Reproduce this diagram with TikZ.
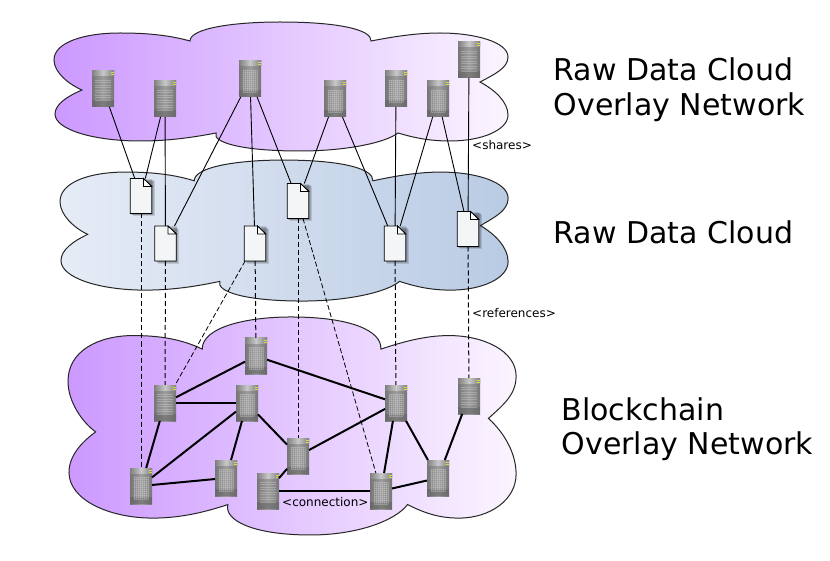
\documentclass[tikz,border=0pt]{standalone}
\usepackage{fontspec}
\setmainfont{DejaVu Sans}
\definecolor{srvedge}{HTML}{767676}
\definecolor{srvmid}{HTML}{9E9E9E}
\definecolor{srvtop}{HTML}{C8C8C8}
\definecolor{srvlow}{HTML}{5E5E5E}
\definecolor{srvline}{HTML}{C8C8C8}
\definecolor{led}{HTML}{D8DC3C}
\definecolor{pleft}{HTML}{CC99FF}
\definecolor{pright}{HTML}{FBF5FF}
\definecolor{bleft}{HTML}{E6ECF6}
\definecolor{bright}{HTML}{B9CBE4}
\definecolor{docfill}{HTML}{F3F5F7}
\tikzset{
  cloudshape/.style={draw=black!85,line width=1pt,shading=axis,shading angle=75},
  purplecloud/.style={cloudshape,left color=pleft,right color=pright},
  bluecloud/.style={cloudshape,left color=bleft,right color=bright},
  srvbox/.style={rectangle,minimum width=22pt,minimum height=36pt,inner sep=0pt,outer sep=0pt},
  docbox/.style={rectangle,minimum width=21.5pt,minimum height=35pt,inner sep=0pt,outer sep=0pt},
  docshape/.style={draw=black,line width=0.9pt,fill=docfill,line join=miter},
  docshadow/.style={fill=black,opacity=0.13},
  share/.style={draw=black,line width=0.9pt},
  refer/.style={draw=black,line width=1pt,dash pattern=on 5pt off 3pt},
  referthin/.style={draw=black,line width=0.8pt,dash pattern=on 5pt off 2.5pt},
  link/.style={draw=black,line width=2pt},
  title/.style={anchor=west,align=left,font=\fontsize{30}{34.5}\selectfont,inner sep=0pt},
  small/.style={anchor=west,font=\fontsize{12}{14}\selectfont,inner sep=0pt}
}
\newcommand{\cloudoutline}{
  (190,41) .. controls (165,34) and (140,33) .. (120,33)
  .. controls (85,33) and (54,42) .. (54,60)
  .. controls (54,72) and (68,84) .. (82,90)
  .. controls (68,96) and (55,104) .. (55,114)
  .. controls (55,130) and (95,141) .. (140,141)
  .. controls (170,141) and (195,137) .. (216,133)
  .. controls (212,142) and (240,151) .. (300,151)
  .. controls (345,151) and (385,143) .. (398,133)
  .. controls (415,138) and (430,141) .. (450,141)
  .. controls (482,141) and (508,130) .. (508,115)
  .. controls (508,102) and (495,90) .. (480,82)
  .. controls (495,74) and (508,68) .. (508,57)
  .. controls (508,42) and (475,33) .. (440,33)
  .. controls (415,33) and (392,37) .. (371,41)
  .. controls (372,30) and (340,22) .. (280,22)
  .. controls (235,22) and (190,28) .. (190,41) -- cycle}
\newcommand{\srvbase}[2]{
  \node[srvbox] (#1) at (#2) {};
  \begin{scope}[shift={(#1.center)}]
    \fill[left color=srvedge,right color=srvedge,middle color=srvmid] (-11,-18) rectangle (11,18);
    \fill[left color=black!50,right color=black!50,middle color=srvtop] (-11,-18) rectangle (11,-13);
    \fill[srvlow,opacity=0.5] (-11,11) rectangle (11,18);
    \fill[led] (8,-16.5) rectangle (11,-15.5);
    \fill[led] (8,-14.5) rectangle (11,-13.5);
  \end{scope}}
\newcommand{\srvgrid}[2]{
  \srvbase{#1}{#2}
  \begin{scope}[shift={(#1.center)},opacity=0.4]
    \foreach \yy in {-9,-7,...,13} \draw[srvline,line width=0.45pt] (-7,\yy) -- (7,\yy);
    \foreach \xx in {-7,-5,...,7} \draw[srvline,line width=0.45pt] (\xx,-9) -- (\xx,13);
  \end{scope}}
\newcommand{\srvstripe}[2]{
  \srvbase{#1}{#2}
  \begin{scope}[shift={(#1.center)},opacity=0.45]
    \foreach \yy in {-9,-6.5,...,13} \draw[srvline,line width=0.7pt] (-8,\yy) -- (8,\yy);
  \end{scope}}
\newcommand{\docnode}[2]{
  \node[docbox] (#1) at (#2) {};
  \begin{scope}[shift={(#1.center)}]
    \foreach \ss in {0.5,1.2,2,3} \fill[docshadow] (-10.75+\ss,-17.5+\ss) rectangle (10.75+\ss,17.5+\ss);
    \draw[docshape] (-10.75,-17.5) -- (2.5,-17.5) -- (10.75,-9.5) -- (10.75,17.5) -- (-10.75,17.5) -- cycle;
    \draw[black,line width=0.8pt,fill=white] (2.5,-17.5) -- (2.5,-9.5) -- (10.75,-9.5) -- cycle;
  \end{scope}}
\begin{document}
\begin{tikzpicture}[x=1pt,y=-1pt]
\useasboundingbox (0,0) rectangle (830,561);
\fill[white] (0,0) rectangle (830,561);
\path[purplecloud] \cloudoutline;
\begin{scope}[shift={(6.7,136)},xscale=0.987,yscale=1.093]
  \path[bluecloud] \cloudoutline;
\end{scope}
\begin{scope}[shift={(14.7,279.8)},xscale=0.987,yscale=1.69]
  \path[purplecloud] \cloudoutline;
\end{scope}
\srvstripe{sa}{103,89}
\srvstripe{sb}{165,99}
\srvgrid{sc}{250,79}
\srvgrid{sd}{335,99}
\srvgrid{se}{396,89}
\srvgrid{sf}{438,99}
\srvstripe{sg}{469,60}
\docnode{da}{141,196}
\docnode{db}{165.5,243.5}
\docnode{dc}{255,243.5}
\docnode{dd}{298,201}
\docnode{de}{395,243.5}
\docnode{df}{468,229}
\srvgrid{ba}{256,356}
\srvstripe{bb}{165,403}
\srvgrid{bc}{247,403}
\srvgrid{bd}{141,486}
\srvgrid{be}{226,478}
\srvstripe{bf}{268,491}
\srvgrid{bg}{298,456}
\srvgrid{bh}{396,403}
\srvstripe{bi}{469,396}
\srvgrid{bj}{381,491}
\srvgrid{bk}{438,478}
\foreach \p/\q in {sa/da,sb/da,sb/db,sc/db,sc/dc,sc/dd,sd/dd,sd/de,se/de,sf/de,sf/df,sg/df}
  \draw[share] (\p) -- (\q);
\foreach \p/\q in {da/bd,db/bb,dc/ba,dd/bg,de/bh,df/bi}
  \draw[refer] (\p) -- (\q);
\foreach \p/\q in {dc/bb,dd/bj}
  \draw[referthin] (\p) -- (\q);
\foreach \p/\q in {ba/bb,bb/bc,bb/bd,bc/bd,ba/bh,bc/be,bc/bg,bd/be,bf/bg,bf/bj,bg/bh,bh/bj,bh/bk,bj/bk,bi/bk}
  \draw[link] (\p) -- (\q);
\node[title] (t1) at (553.5,89.5) {Raw Data Cloud\\Overlay Network};
\node[title] (t2) at (553.5,232) {Raw Data Cloud};
\node[title] (t3) at (561.5,429) {Blockchain\\Overlay Network};
\node[small] (l1) at (472,145) {<shares>};
\node[small] (l2) at (472,313) {<references>};
\node[small] (l3) at (282,502) {<connection>};
\end{tikzpicture}
\end{document}
